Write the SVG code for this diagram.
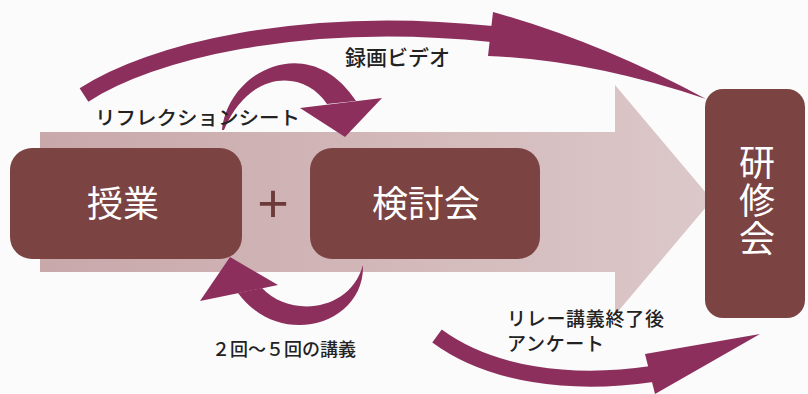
<svg xmlns="http://www.w3.org/2000/svg" width="808" height="394" viewBox="0 0 808 394">
  <defs>
    <linearGradient id="flow" x1="40" y1="0" x2="712" y2="0" gradientUnits="userSpaceOnUse">
      <stop offset="0" stop-color="#c9a8aa"/>
      <stop offset="0.55" stop-color="#d3b9ba"/>
      <stop offset="1" stop-color="#dcc8ca"/>
    </linearGradient>
    <style>
      .box { fill: #7b4443; }
      .arc { fill: #8c2f5d; }
      .arcs { fill: none; stroke: #8c2f5d; }
      .big { font-family: "Noto Sans CJK JP", "Noto Sans", sans-serif; font-size: 36px; fill: #ffffff; text-anchor: middle; }
      .lbl { font-family: "Noto Sans CJK JP", "Noto Sans", sans-serif; fill: #222222; font-weight: 500; }
    </style>
  </defs>
  <rect width="808" height="394" fill="#fbfbfb"/>

  <!-- background flow arrow -->
  <g id="flow-arrow">
    <path d="M40,132 H615 V85 L712,200 L615,315 V272 H40 Z" fill="url(#flow)"/>
  </g>

  <!-- nodes -->
  <g id="node-jugyo">
    <rect class="box" x="10" y="148" width="232" height="111" rx="22"/>
    <text class="big" x="123" y="217">授業</text>
  </g>
  <g id="plus">
    <text x="273" y="222" font-family="Liberation Sans, sans-serif" font-size="54" fill="#6d3a3a" text-anchor="middle">+</text>
  </g>
  <g id="node-kentokai">
    <rect class="box" x="310" y="148" width="230" height="111" rx="22"/>
    <text class="big" x="426" y="217">検討会</text>
  </g>
  <g id="node-kenshukai">
    <rect class="box" x="705" y="89" width="100" height="229" rx="18"/>
    <text class="big" x="757" y="201" writing-mode="vertical-rl" letter-spacing="2">研修会</text>
  </g>

  <!-- connectors -->
  <g id="connectors">
    <!-- 録画ビデオ : big top arc -->
    <path class="arcs" stroke-width="16" d="M84,95 C150,52 300,14 492,34"/>
    <path class="arc" d="M493,12 Q600,42 706,99 Q590,60 488,56 Z"/>
    <!-- リフレクションシート : small top arc -->
    <path class="arc" d="M222,130 C228,70 310,30 356,101 L327,104 C305,70 250,68 224,130 Z"/>
    <path class="arc" d="M300,108 L382,98 L345,137 Z"/>
    <!-- 2回～5回の講義 : small bottom arc -->
    <path class="arc" d="M363,265 C365,325 280,350 238,293 L262,288 C290,318 350,312 363,265 Z"/>
    <path class="arc" d="M200,301 L230,257 L278,285 Z"/>
    <!-- リレー講義終了後アンケート : bottom arc -->
    <path class="arcs" stroke-width="16" d="M437,336 C490,375 570,386 652,374"/>
    <path class="arc" d="M645,354 L760,334 L655,394 Z"/>
  </g>

  <!-- labels -->
  <g id="labels">
    <text class="lbl" x="345" y="65" font-size="21">録画ビデオ</text>
    <text class="lbl" x="95" y="125" font-size="19" textLength="205" lengthAdjust="spacingAndGlyphs">リフレクションシート</text>
    <text class="lbl" x="212" y="356" font-size="18">２回～５回の講義</text>
    <text class="lbl" x="507" y="326" font-size="19" letter-spacing="0.7">リレー講義終了後</text>
    <text class="lbl" x="507" y="351" font-size="19" letter-spacing="0.7">アンケート</text>
  </g>
</svg>
